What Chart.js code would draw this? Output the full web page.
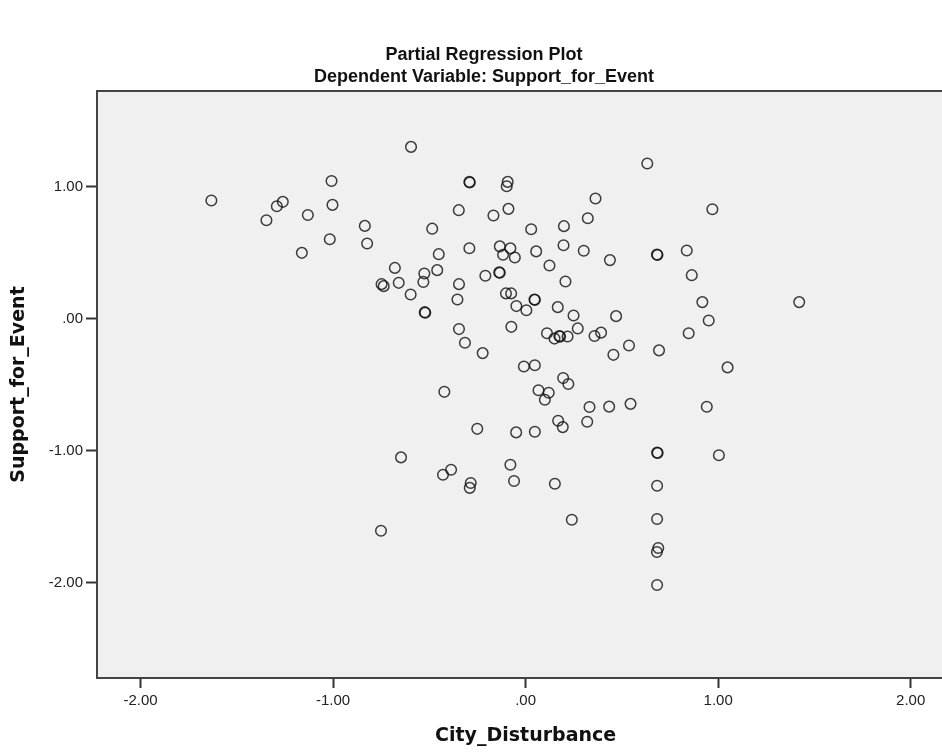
<!DOCTYPE html>
<html>
<head>
<meta charset="utf-8">
<title>Partial Regression Plot</title>
<script src="https://cdn.jsdelivr.net/npm/chart.js@4.4.1/dist/chart.umd.min.js"></script>
<style>
  html, body { margin: 0; padding: 0; background: #fff; overflow: hidden; }
  /* the plot panel runs past the right edge of the window, as in the reference */
  #wrap { width: 942px; height: 752px; overflow: hidden; }
</style>
</head>
<body>
<div id="wrap"><canvas id="plot" width="961" height="752"></canvas></div>
<script>
// Values (one entry per case)
const cityDisturbance = [
  -1.632, -1.346, -1.292, -1.261, -1.162, -1.131, -1.017, -1.008, -1.003, -0.835,
  -0.823, -0.748, -0.737, -0.679, -0.659, -0.597, -0.595, -0.526, -0.531, -0.524,
  -0.521, -0.485, -0.451, -0.459, -0.347, -0.346, -0.354, -0.292, -0.290, -0.292,
  -0.346, -0.315, -0.223, -0.209, -0.167, -0.134, -0.137, -0.134, -0.117, -0.093,
  -0.098, -0.089, -0.079, -0.056, -0.102, -0.075, -0.048, 0.004, 0.029, 0.046,
  0.048, 0.055, 0.124, 0.167, 0.197, 0.199, 0.207, 0.249, 0.302, 0.323,
  0.363, 0.438, 0.470, 0.632, 0.682, 0.685, 0.837, 0.863, 0.918, 0.951,
  0.970, 1.421, -0.074, 0.111, 0.150, 0.175, 0.179, 0.218, 0.271, 0.358,
  0.392, 0.456, 0.537, 0.693, 0.847, 1.049, -0.009, 0.048, 0.195, 0.222,
  -0.422, 0.067, 0.120, 0.100, 0.332, 0.434, 0.545, 0.941, 1.004, -0.251,
  -0.049, 0.048, 0.169, 0.193, 0.320, 0.683, 0.686, -0.647, -0.429, -0.387,
  -0.285, -0.290, -0.079, -0.060, 0.152, 0.240, 0.683, 0.683, 0.689, 0.682,
  0.683, -0.751
];
const supportForEvent = [
  0.894, 0.745, 0.851, 0.884, 0.498, 0.785, 0.601, 1.042, 0.861, 0.702,
  0.569, 0.261, 0.246, 0.384, 0.271, 0.183, 1.300, 0.342, 0.278, 0.049,
  0.045, 0.681, 0.488, 0.367, 0.821, 0.261, 0.145, 1.035, 1.031, 0.533,
  -0.079, -0.183, -0.261, 0.325, 0.781, 0.547, 0.350, 0.347, 0.484, 1.035,
  1.002, 0.831, 0.532, 0.463, 0.191, 0.191, 0.095, 0.063, 0.677, 0.145,
  0.142, 0.509, 0.402, 0.087, 0.556, 0.700, 0.281, 0.024, 0.514, 0.760,
  0.909, 0.443, 0.019, 1.174, 0.486, 0.482, 0.516, 0.329, 0.125, -0.014,
  0.828, 0.125, -0.062, -0.111, -0.151, -0.132, -0.136, -0.135, -0.074, -0.131,
  -0.106, -0.274, -0.203, -0.240, -0.111, -0.369, -0.362, -0.353, -0.450, -0.495,
  -0.554, -0.542, -0.561, -0.614, -0.669, -0.666, -0.645, -0.667, -1.034, -0.834,
  -0.861, -0.856, -0.773, -0.821, -0.781, -1.014, -1.017, -1.050, -1.182, -1.144,
  -1.244, -1.281, -1.106, -1.229, -1.250, -1.522, -1.265, -1.517, -1.736, -1.766,
  -2.016, -1.605
];

const xTickValues = [-2, -1, 0, 1, 2];
const xTickLabels = ["-2.00", "-1.00", ".00", "1.00", "2.00"];
const yTickValues = [-2, -1, 0, 1];
const yTickLabels = ["-2.00", "-1.00", ".00", "1.00"];

const chartTitle = "Partial Regression Plot";
const chartSubtitle = "Dependent Variable: Support_for_Event";
const xTitle = "City_Disturbance";
const yTitle = "Support_for_Event";

// Plot panel background, top frame line and the two title lines
const panelPlugin = {
  id: "panel",
  beforeDraw(chart) {
    const { ctx, chartArea: a } = chart;
    ctx.save();
    ctx.fillStyle = "#ffffff";
    ctx.fillRect(0, 0, chart.width, chart.height);
    ctx.fillStyle = "#f0f0f0";
    ctx.fillRect(a.left, a.top, a.right - a.left, a.bottom - a.top);
    ctx.restore();
  },
  afterDraw(chart) {
    const { ctx, chartArea: a } = chart;
    ctx.save();
    ctx.strokeStyle = "#444";
    ctx.lineWidth = 2;
    ctx.beginPath();
    ctx.moveTo(a.left, a.top);
    ctx.lineTo(a.right, a.top);
    ctx.stroke();

    ctx.fillStyle = "#111";
    ctx.textAlign = "center";
    ctx.textBaseline = "middle";
    ctx.font = "bold 18px Arial";
    ctx.fillText(chartTitle, 484, 55);
    ctx.fillText(chartSubtitle, 484, 77);
    ctx.restore();
  }
};

const axisTitleFont = { family: "DejaVu Sans", weight: "bold", size: 19 };
const tickFont = { family: "Arial", size: 15 };

new Chart(document.getElementById("plot"), {
  type: "scatter",
  data: {
    datasets: [{
      data: cityDisturbance.map((x, i) => ({ x, y: supportForEvent[i] })),
      pointRadius: 5.3,
      pointBorderWidth: 1.5,
      pointBorderColor: "rgba(15,15,15,0.8)",
      pointBackgroundColor: "rgba(0,0,0,0)"
    }]
  },
  options: {
    responsive: false,
    animation: false,
    events: [],
    layout: { padding: { top: 91, right: 0, bottom: 0, left: 0 } },
    plugins: {
      legend: { display: false },
      tooltip: { enabled: false }
    },
    scales: {
      x: {
        type: "linear",
        min: -2.226,
        max: 2.226,
        afterBuildTicks: s => { s.ticks = xTickValues.map(v => ({ value: v })); },
        afterFit: s => {
          s.height = 74;
          s.paddingLeft = 0;
          s.paddingRight = 0;
        },
        ticks: {
          autoSkip: false,
          maxRotation: 0,
          padding: 4,
          color: "#222",
          font: tickFont,
          callback: v => xTickLabels[xTickValues.indexOf(v)]
        },
        grid: {
          drawOnChartArea: false,
          tickLength: 10,
          tickColor: "#333",
          tickWidth: 2
        },
        border: { display: true, color: "#444", width: 2 },
        title: {
          display: true,
          text: xTitle,
          color: "#111",
          font: axisTitleFont,
          padding: { top: 0, bottom: 4.6 }
        }
      },
      y: {
        type: "linear",
        min: -2.72,
        max: 1.723,
        afterBuildTicks: s => { s.ticks = yTickValues.map(v => ({ value: v })); },
        afterFit: s => {
          s.width = 97;
          s.paddingTop = 0;
          s.paddingBottom = 0;
        },
        ticks: {
          autoSkip: false,
          padding: 3,
          color: "#222",
          font: tickFont,
          callback: v => yTickLabels[yTickValues.indexOf(v)]
        },
        grid: {
          drawOnChartArea: false,
          tickLength: 11,
          tickColor: "#333",
          tickWidth: 2
        },
        border: { display: true, color: "#444", width: 2 },
        title: {
          display: true,
          text: yTitle,
          color: "#111",
          font: axisTitleFont,
          padding: { top: 8, bottom: 0 }
        }
      }
    }
  },
  plugins: [panelPlugin]
});
</script>
</body>
</html>
